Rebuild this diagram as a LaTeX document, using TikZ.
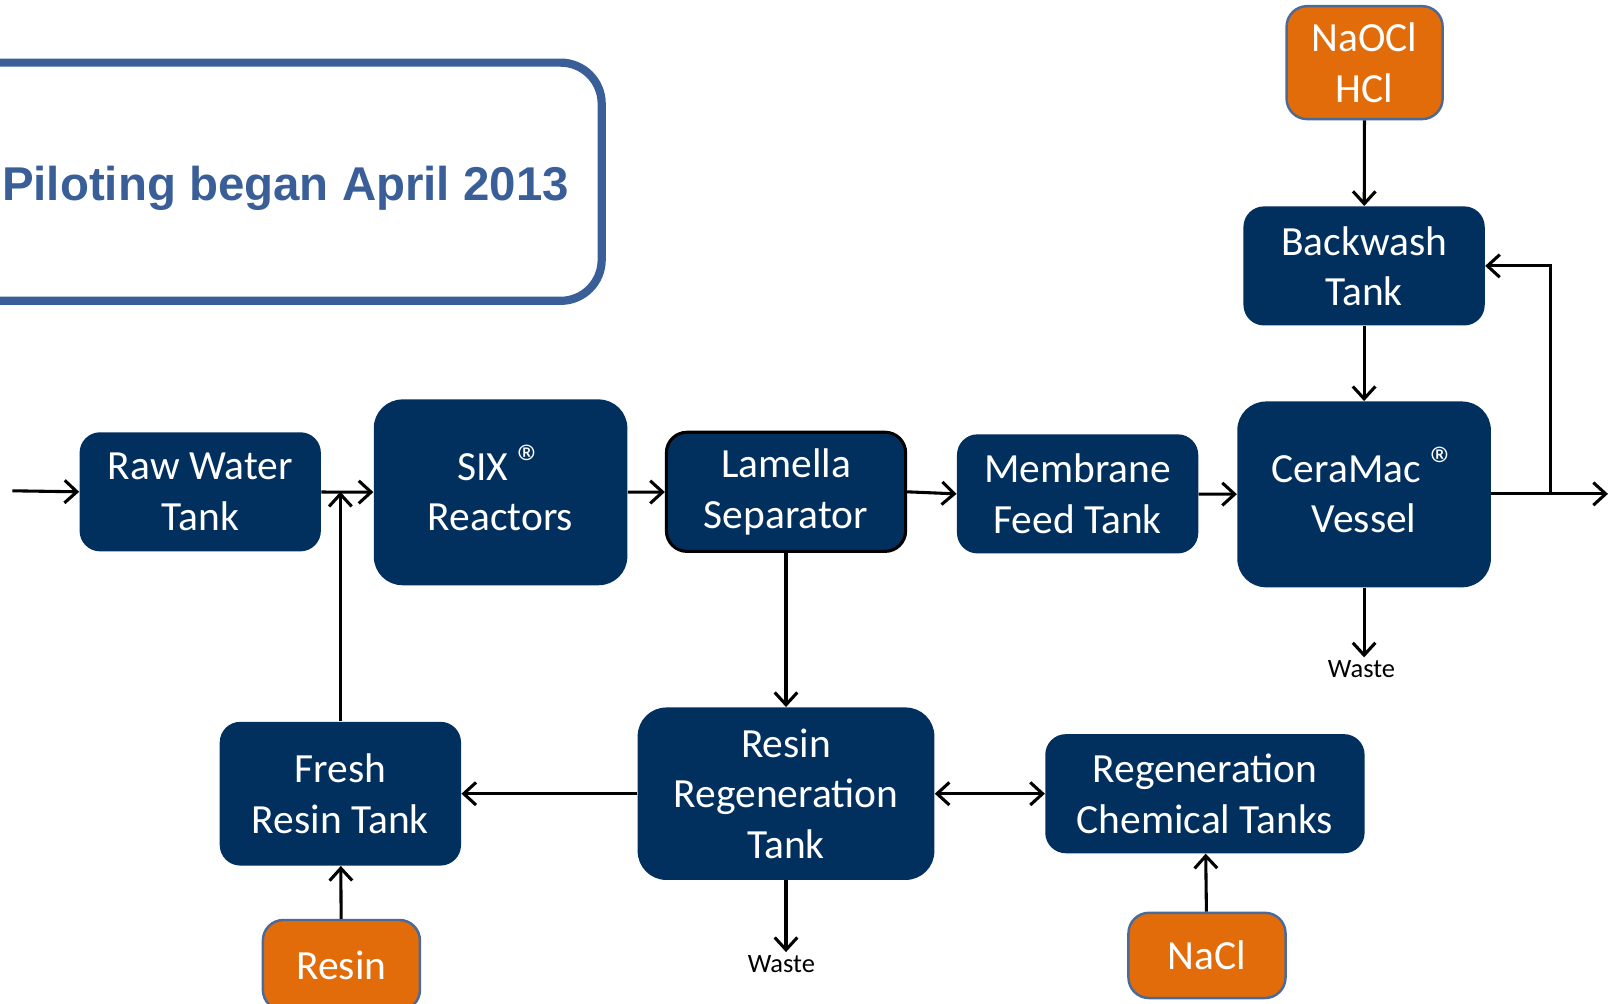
\documentclass[tikz,border=0pt]{standalone}
\usepackage{fontspec}
\setmainfont{Carlito}
\newfontfamily\titlefont{Liberation Sans}
\usetikzlibrary{arrows.meta}
\definecolor{boxblue}{RGB}{2,48,94}
\definecolor{boxorange}{RGB}{227,108,10}
\definecolor{titleblue}{RGB}{58,95,152}
\definecolor{edgeblue}{RGB}{74,106,154}
\newcommand{\regmark}{\smash{\fontsize{25}{25}\selectfont\textregistered}}

\begin{document}
\begin{tikzpicture}[x=0.5pt,y=-0.5pt,
tank/.style={fill=boxblue,text=white,rounded corners=10pt,align=center,inner sep=0pt,
	font=\fontsize{20.2}{24.5}\selectfont},
bigtank/.style={tank,rounded corners=14pt},
supply/.style={tank,fill=boxorange,draw=edgeblue,line width=1.2pt},
waste/.style={font=\fontsize{12.9}{14}\selectfont,inner sep=1.5pt},
flow/.style={line width=1.5pt,-{Straight Barb[length=6pt,width=11pt]}}]
\useasboundingbox (0,0) rectangle (1568,977);

%title box, cut by the left border
\draw[titleblue,line width=4pt,rounded corners=20pt] (-40,61) rectangle (586,293);
\node[anchor=base,text=titleblue,font=\titlefont\bfseries\fontsize{23.1}{27}\selectfont] (title) at (278,195) {Piloting began April 2013};

%main line
\node[tank,minimum width=117.5pt,minimum height=58pt] (raw) at (195,479) {Raw Water\\Tank};
\node[bigtank,minimum width=123.5pt,minimum height=90.5pt] (six) at (487.5,479.5) {SIX \regmark\\Reactors};
\node[tank,draw=black,line width=1.5pt,minimum width=116.5pt,minimum height=58pt] (lamella) at (765.5,479) {Lamella\\Separator};
\node[tank,minimum width=117.5pt,minimum height=58pt] (membrane) at (1049.5,481) {Membrane\\Feed Tank};
\node[bigtank,minimum width=123.5pt,minimum height=90.5pt] (ceramac) at (1328.5,481.5) {CeraMac \regmark\\Vessel};
\node[tank,minimum width=117.5pt,minimum height=58pt] (backwash) at (1328.5,259) {Backwash\\Tank};
\node[supply,minimum width=76pt,minimum height=55pt] (naocl) at (1329,61) {NaOCl\\HCl};

%resin loop
\node[tank,minimum width=117.5pt,minimum height=70pt] (fresh) at (331.5,773) {Fresh\\Resin Tank};
\node[bigtank,minimum width=144.5pt,minimum height=84pt] (regen) at (765.5,773) {Resin\\Regeneration\\Tank};
\node[tank,minimum width=155.5pt,minimum height=58pt] (chemtanks) at (1173.5,773) {Regeneration\\Chemical Tanks};
\node[supply,minimum width=76.5pt,minimum height=44pt] (resin) at (332.5,940) {Resin};
\node[supply,minimum width=76.5pt,minimum height=41.5pt] (nacl) at (1175.5,930.5) {NaCl};

\node[waste] (waste1) at (1326,652) {Waste};
\node[waste] (waste2) at (761,939) {Waste};

\coordinate (inlet) at (12,478);
\coordinate (outlet) at (1566,481);
\coordinate (tap) at (1510,481);

%connectors
\draw[flow] (inlet) -- (raw.west);
\draw[flow] (raw) -- (six);
\draw[flow] (fresh.north) -- (fresh.north |- raw.east);
\draw[flow] (six) -- (lamella);
\draw[flow] (lamella.east) -- (membrane.west);
\draw[flow] (membrane) -- (ceramac);
\draw[line width=1.5pt] (ceramac.east |- tap) -- (tap);
\draw[flow] (tap) -- (outlet);
\draw[flow] (tap) |- (backwash.east);
\draw[flow] (naocl) -- (backwash);
\draw[flow] (backwash) -- (ceramac);
\draw[flow] (ceramac.south) -- (ceramac.south |- waste1.north);
\draw[flow] (lamella) -- (regen);
\draw[flow] (regen) -- (fresh);
\draw[flow,{Straight Barb[length=6pt,width=11pt]}-{Straight Barb[length=6pt,width=11pt]}] (regen) -- (chemtanks);
\draw[flow] (nacl) -- (chemtanks);
\draw[flow] (resin) -- (fresh);
\draw[flow] (regen.south) -- (regen.south |- waste2.north);

\end{tikzpicture}
\end{document}
